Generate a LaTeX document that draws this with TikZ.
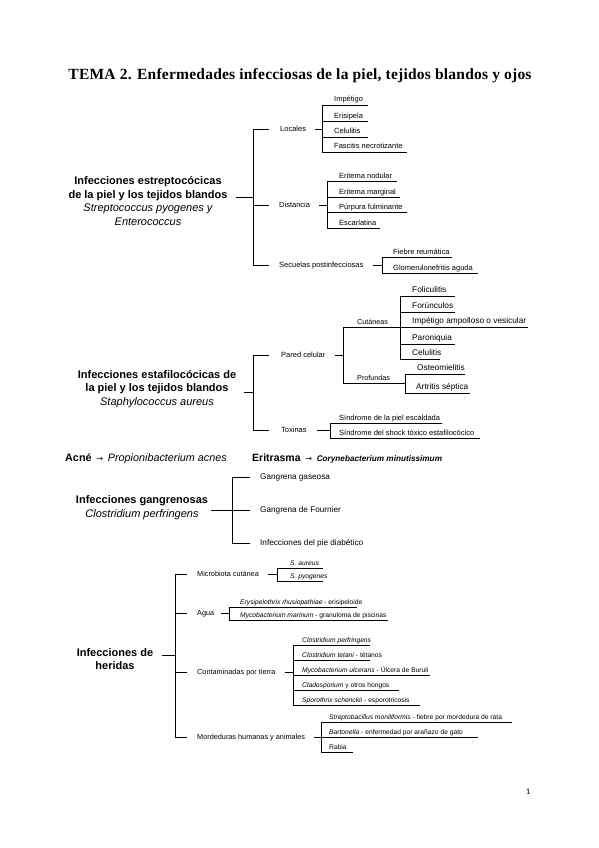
\documentclass[tikz,border=0pt]{standalone}
\usepackage{fontspec}
\setmainfont{Liberation Sans}
\newfontfamily\titlefont[LetterSpace=1.5]{Liberation Serif}
\newfontfamily\pagefont{Carlito}
\newfontfamily\arrowfont{DejaVu Sans}
\newcommand\leafu[7]{\node[#1] (#2) at (#5,#4) {#7};\draw[ul] (#3,#4) -- (#6,#4);}
\begin{document}
\begin{tikzpicture}[x=1pt,y=-1pt,
  br/.style={line width=0.8pt, black},
  ul/.style={line width=0.7pt, black},
  mainlbl/.style={font=\bfseries\fontsize{11}{13.8}\selectfont, align=center, inner sep=0pt},
  lvl/.style={font=\fontsize{7.5}{9}\selectfont, inner sep=0pt, anchor=base west, yshift=-2.6pt},
  lvlg/.style={font=\fontsize{8.2}{9}\selectfont, inner sep=0pt, anchor=base west, yshift=-2.8pt},
  lvlw/.style={font=\fontsize{7.3}{9}\selectfont, inner sep=0pt, anchor=base west, yshift=-2.5pt},
  leaf/.style={font=\fontsize{7.5}{9}\selectfont, inner sep=0pt, anchor=base west, yshift=3pt},
  leafb/.style={font=\fontsize{8.3}{10}\selectfont, inner sep=0pt, anchor=base west, yshift=3.2pt},
  leafs/.style={font=\fontsize{7.2}{9}\selectfont, inner sep=0pt, anchor=base west, yshift=3pt},
  leafw/.style={font=\fontsize{6.7}{8}\selectfont, inner sep=0pt, anchor=base west, yshift=2.6pt}]
\useasboundingbox (0,0) rectangle (599,848);
\fill[white] (0,0) rectangle (599,848);

% Title
\node[font=\titlefont\bfseries\fontsize{15.5}{18}\selectfont, anchor=base, inner sep=0pt] (title) at (300,80) {TEMA 2. Enfermedades infecciosas de la piel, tejidos blandos y ojos};

% ---------- Section 1: estreptococicas ----------
\node[mainlbl] (s1) at (148,201) {Infecciones estreptocócicas\\de la piel y los tejidos blandos\\{\mdseries\itshape Streptococcus pyogenes y}\\{\mdseries\itshape Enterococcus}};
\coordinate (b0t) at (253,129);
\coordinate (b0m) at (253,197);
\coordinate (b0b) at (253,265);
\draw[br] (b0t) -- (b0b);
\draw[br] ([xshift=8pt]s1.east |- b0m) -- (b0m);
\node[lvl] (loc) at (280,129) {Locales};
\node[lvl] (dis) at (279,205) {Distancia};
\node[lvl] (sec) at (279,265) {Secuelas postinfecciosas};
\draw[br] (b0t) -- (269,129);
\draw[br] (253,205) -- (269,205);
\draw[br] (b0b) -- (269,265);

% Locales
\coordinate (b1t) at (322,105);
\coordinate (b1b) at (322,152);
\draw[br] (b1t) -- (b1b);
\draw[br] ([xshift=9pt]loc.base east) ++(0,-2.6) -- (322,129);
\leafu{leaf}{l1a}{322}{105}{334}{368}{Impétigo}
\leafu{leaf}{l1b}{322}{121}{334}{368}{Erisipela}
\leafu{leaf}{l1c}{322}{137}{334}{368}{Celulitis}
\leafu{leaf}{l1d}{322}{152}{334}{407}{Fascitis necrotizante}

% Distancia
\coordinate (b2t) at (327,181);
\coordinate (b2b) at (327,228);
\draw[br] (b2t) -- (b2b);
\draw[br] ([xshift=9pt]dis.base east) ++(0,-2.6) -- (327,205);
\leafu{leaf}{l2a}{327}{181}{339}{397}{Eritema nodular}
\leafu{leaf}{l2b}{327}{197}{339}{400}{Eritema marginal}
\leafu{leaf}{l2c}{327}{212}{339}{407}{Púrpura fulminante}
\leafu{leaf}{l2d}{327}{228}{339}{380}{Escarlatina}

% Secuelas
\coordinate (b3t) at (382,257);
\coordinate (b3b) at (382,273);
\draw[br] (b3t) -- (b3b);
\draw[br] ([xshift=9pt]sec.base east) ++(0,-2.6) -- (382,265);
\leafu{leaf}{l3a}{382}{257}{393}{452}{Fiebre reumática}
\leafu{leaf}{l3b}{382}{273}{393}{478}{Glomerulonefritis aguda}

% ---------- Section 2: estafilococicas ----------
\node[mainlbl] (s2) at (157,389) {Infecciones estafilocócicas de\\la piel y los tejidos blandos\\{\mdseries\itshape Staphylococcus aureus}};
\coordinate (c0t) at (253,355);
\coordinate (c0m) at (253,392);
\coordinate (c0b) at (253,430);
\draw[br] (c0t) -- (c0b);
\draw[br] ([xshift=8pt]s2.east |- c0m) -- (c0m);
\node[lvl] (pc) at (281,355) {Pared celular};
\node[lvl] (tox) at (281,430) {Toxinas};
\draw[br] (c0t) -- (269,355);
\draw[br] (c0b) -- (269,430);

% Pared celular
\coordinate (c1t) at (343,327);
\coordinate (c1b) at (343,383);
\draw[br] (c1t) -- (c1b);
\draw[br] ([xshift=9pt]pc.base east) ++(0,-2.6) -- (343,355);
\leafu{leafs}{cut}{343}{327}{357}{400}{Cutáneas}
\leafu{leafs}{pro}{343}{383}{357}{405}{Profundas}

% Cutaneas
\coordinate (c2t) at (400,296);
\coordinate (c2b) at (400,359);
\draw[br] (c2t) -- (c2b);
\leafu{leafb}{k1}{400}{296}{412}{455}{Foliculitis}
\leafu{leafb}{k2}{400}{312}{412}{455}{Forúnculos}
\leafu{leafb}{k3}{400}{327}{412}{528}{Impétigo ampolloso o vesicular}
\leafu{leafb}{k4}{400}{344}{412}{455}{Paroniquia}
\leafu{leafb}{k5}{400}{359}{412}{440}{Celulitis}

% Profundas
\coordinate (c3t) at (405,374);
\coordinate (c3b) at (405,393);
\draw[br] (c3t) -- (c3b);
\leafu{leafb}{p1}{405}{374}{417}{465}{Osteomielitis}
\leafu{leafb}{p2}{405}{393}{416}{470}{Artritis séptica}

% Toxinas
\coordinate (c4t) at (330,423);
\coordinate (c4b) at (330,438);
\draw[br] (c4t) -- (c4b);
\draw[br] ([xshift=10pt]tox.base east) ++(0,-2.6) -- (330,430);
\leafu{leaf}{t1}{330}{423}{339}{442}{Síndrome de la piel escaldada}
\leafu{leaf}{t2}{330}{438}{339}{480}{Síndrome del shock tóxico estafilocócico}

% ---------- Acne / Eritrasma ----------
\node[anchor=base west, inner sep=0pt, font=\fontsize{10.8}{12}\selectfont] (acne) at (65,461) {\textbf{Acné}\, {\arrowfont\fontsize{8}{10}\selectfont →}\, \textit{Propionibacterium acnes}};
\node[anchor=base west, inner sep=0pt, font=\fontsize{10.5}{12}\selectfont] (eri) at (252,461) {\textbf{Eritrasma}\, {\arrowfont\fontsize{8}{10}\selectfont →}\, {\fontsize{8.2}{10}\selectfont\bfseries\itshape Corynebacterium minutissimum}};

% ---------- Gangrenosas ----------
\node[mainlbl] (g) at (142,508) {Infecciones gangrenosas\\{\mdseries\itshape Clostridium perfringens}};
\coordinate (g0t) at (232,477);
\coordinate (g0m) at (232,510);
\coordinate (g0b) at (232,543);
\draw[br] (g0t) -- (g0b);
\draw[br] ([xshift=3pt]g.east |- g0m) -- (g0m);
\node[lvlg] (g1) at (260,477) {Gangrena gaseosa};
\node[lvlg] (g2) at (260,510) {Gangrena de Fournier};
\node[lvlg] (g3) at (260,543) {Infecciones del pie diabético};
\draw[br] (g0t) -- (250,477);
\draw[br] (g0m) -- (250,510);
\draw[br] (g0b) -- (250,543);

% ---------- Heridas ----------
\node[mainlbl] (w) at (115,659) {Infecciones de\\heridas};
\coordinate (w0t) at (175,574);
\coordinate (w0m) at (175,655);
\coordinate (w0b) at (175,737);
\draw[br] (w0t) -- (w0b);
\draw[br] ([xshift=9pt]w.east |- w0m) -- (w0m);
\node[lvlw] (mic) at (197,574) {Microbiota cutánea};
\node[lvlw] (agu) at (197,613) {Agua};
\node[lvlw] (con) at (197,672) {Contaminadas por tierra};
\node[lvlw] (mor) at (197,737) {Mordeduras humanas y animales};
\draw[br] (w0t) -- (187,574);
\draw[br] (175,613) -- (187,613);
\draw[br] (175,672) -- (187,672);
\draw[br] (w0b) -- (187,737);

% Microbiota
\coordinate (w1t) at (277,568);
\coordinate (w1b) at (277,581);
\draw[br] (w1t) -- (w1b);
\draw[br] ([xshift=9pt]mic.base east) ++(0,-2.5) -- (277,574);
\leafu{leafw}{m1}{277}{568}{290}{323}{\textit{S. aureus}}
\leafu{leafw}{m2}{277}{581}{290}{323}{\textit{S. pyogenes}}

% Agua
\coordinate (w2t) at (229,607);
\coordinate (w2b) at (229,620);
\draw[br] (w2t) -- (w2b);
\draw[br] ([xshift=7pt]agu.base east) ++(0,-2.5) -- (229,613);
\leafu{leafw}{a1}{229}{607}{240}{357}{\textit{Erysipelothrix rhusiopathiae} - erisipeloide}
\leafu{leafw}{a2}{229}{620}{240}{388}{\textit{Mycobacterium marinum} - granuloma de piscinas}

% Contaminadas
\coordinate (w3t) at (293,645);
\coordinate (w3b) at (293,705);
\draw[br] (w3t) -- (w3b);
\draw[br] ([xshift=9pt]con.base east) ++(0,-2.5) -- (293,672);
\leafu{leafw}{e1}{293}{645}{302}{370}{\textit{Clostridium perfringens}}
\leafu{leafw}{e2}{293}{660}{302}{370}{\textit{Clostridium tetani} - tétanos}
\leafu{leafw}{e3}{293}{675}{302}{430}{\textit{Mycobacterium ulcerans} - Úlcera de Buruli}
\leafu{leafw}{e4}{293}{690}{302}{399}{\textit{Cladosporium} y otros hongos}
\leafu{leafw}{e5}{293}{705}{302}{420}{\textit{Sporothrix schenckii} - esporotricosis}

% Mordeduras
\coordinate (w4t) at (321,722);
\coordinate (w4b) at (321,752);
\draw[br] (w4t) -- (w4b);
\draw[br] ([xshift=9pt]mor.base east) ++(0,-2.5) -- (321,737);
\leafu{leafw}{r1}{321}{722}{329}{512}{\textit{Streptobacillus moniliformis} - fiebre por mordedura de rata}
\leafu{leafw}{r2}{321}{737}{329}{478}{\textit{Bartonella} - enfermedad por arañazo de gato}
\leafu{leafw}{r3}{321}{752}{329}{353}{Rabia}

% page number
\node[font=\pagefont\fontsize{8.5}{10}\selectfont, inner sep=0pt] (pg) at (528,792) {1};
\end{tikzpicture}
\end{document}
